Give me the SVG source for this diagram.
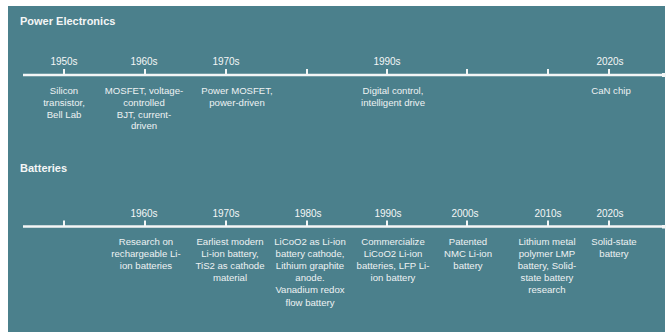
<svg xmlns="http://www.w3.org/2000/svg" width="667" height="332" viewBox="0 0 667 332">
<defs>
<style>
.bg{fill:#4b808c}
.line{stroke:#f4f6f6;stroke-width:2.4;fill:none}
.tick{stroke:#f4f6f6;stroke-width:2;fill:none}
.title{font-family:"Liberation Sans",Arial,sans-serif;font-weight:bold;font-size:11px;fill:#f4f6f6}
.year{font-family:"Liberation Sans",Arial,sans-serif;font-size:10px;fill:#f4f6f6;text-anchor:middle}
.desc{font-family:"Liberation Sans",Arial,sans-serif;font-size:9.6px;fill:#eef2f3;text-anchor:middle}
</style>
<marker id="end" viewBox="0 0 4 4" refX="2" refY="2" markerWidth="4" markerHeight="4" markerUnits="userSpaceOnUse" orient="auto">
<rect x="0" y="0" width="4" height="4" fill="#f4f6f6"/>
</marker>
</defs>
<rect x="0" y="0" width="667" height="332" fill="#ffffff"/>
<rect class="bg" x="8" y="6" width="657" height="326"/>

<text class="title" x="20" y="25">Power Electronics</text>
<text class="title" x="20" y="172">Batteries</text>

<g id="connectors">
<line class="line" x1="23" y1="75" x2="664" y2="75" marker-end="url(#end)"/>
<line class="line" x1="23" y1="226.5" x2="664" y2="226.5" marker-end="url(#end)"/>
<g id="ticks-pe">
<line class="tick" x1="64" y1="69" x2="64" y2="75"/>
<line class="tick" x1="145" y1="69" x2="145" y2="75"/>
<line class="tick" x1="226" y1="69" x2="226" y2="75"/>
<line class="tick" x1="307" y1="69" x2="307" y2="75"/>
<line class="tick" x1="387" y1="69" x2="387" y2="75"/>
<line class="tick" x1="467" y1="69" x2="467" y2="75"/>
<line class="tick" x1="548" y1="69" x2="548" y2="75"/>
<line class="tick" x1="609" y1="69" x2="609" y2="75"/>
</g>
<g id="ticks-bat">
<line class="tick" x1="64" y1="220.5" x2="64" y2="226.5"/>
<line class="tick" x1="145" y1="220.5" x2="145" y2="226.5"/>
<line class="tick" x1="226" y1="220.5" x2="226" y2="226.5"/>
<line class="tick" x1="307" y1="220.5" x2="307" y2="226.5"/>
<line class="tick" x1="387" y1="220.5" x2="387" y2="226.5"/>
<line class="tick" x1="467" y1="220.5" x2="467" y2="226.5"/>
<line class="tick" x1="548" y1="220.5" x2="548" y2="226.5"/>
<line class="tick" x1="609" y1="220.5" x2="609" y2="226.5"/>
</g>
</g>

<g id="pe-1950s">
<text class="year" x="64" y="65">1950s</text>
<text class="desc" x="64" y="94"><tspan x="64">Silicon</tspan><tspan x="64" dy="11.8">transistor,</tspan><tspan x="64" dy="11.8">Bell Lab</tspan></text>
</g>
<g id="pe-1960s">
<text class="year" x="144" y="65">1960s</text>
<text class="desc" x="144" y="94"><tspan x="144">MOSFET, voltage-</tspan><tspan x="144" dy="11.8">controlled</tspan><tspan x="144" dy="11.8">BJT, current-</tspan><tspan x="144" dy="11.8">driven</tspan></text>
</g>
<g id="pe-1970s">
<text class="year" x="226" y="65">1970s</text>
<text class="desc" x="237" y="94"><tspan x="237">Power MOSFET,</tspan><tspan x="237" dy="11.8">power-driven</tspan></text>
</g>
<g id="pe-1990s">
<text class="year" x="387" y="65">1990s</text>
<text class="desc" x="393" y="94"><tspan x="393">Digital control,</tspan><tspan x="393" dy="11.8">intelligent drive</tspan></text>
</g>
<g id="pe-2020s">
<text class="year" x="610" y="65">2020s</text>
<text class="desc" x="611" y="94">CaN chip</text>
</g>

<g id="bat-1960s">
<text class="year" x="144" y="216.5">1960s</text>
<text class="desc" x="146" y="245"><tspan x="146">Research on</tspan><tspan x="146" dy="12.1">rechargeable Li-</tspan><tspan x="146" dy="12.1">ion batteries</tspan></text>
</g>
<g id="bat-1970s">
<text class="year" x="226" y="216.5">1970s</text>
<text class="desc" x="230" y="245"><tspan x="230">Earliest modern</tspan><tspan x="230" dy="12.1">Li-ion battery,</tspan><tspan x="230" dy="12.1">TiS2 as cathode</tspan><tspan x="230" dy="12.1">material</tspan></text>
</g>
<g id="bat-1980s">
<text class="year" x="308" y="216.5">1980s</text>
<text class="desc" x="310" y="245"><tspan x="310">LiCoO2 as Li-ion</tspan><tspan x="310" dy="12.1">battery cathode,</tspan><tspan x="310" dy="12.1">Lithium graphite</tspan><tspan x="310" dy="12.1">anode.</tspan><tspan x="310" dy="12.1">Vanadium redox</tspan><tspan x="310" dy="12.1">flow battery</tspan></text>
</g>
<g id="bat-1990s">
<text class="year" x="388" y="216.5">1990s</text>
<text class="desc" x="393" y="245"><tspan x="393">Commercialize</tspan><tspan x="393" dy="12.1">LiCoO2 Li-ion</tspan><tspan x="393" dy="12.1">batteries, LFP Li-</tspan><tspan x="393" dy="12.1">ion battery</tspan></text>
</g>
<g id="bat-2000s">
<text class="year" x="465" y="216.5">2000s</text>
<text class="desc" x="468" y="245"><tspan x="468">Patented</tspan><tspan x="468" dy="12.1">NMC Li-ion</tspan><tspan x="468" dy="12.1">battery</tspan></text>
</g>
<g id="bat-2010s">
<text class="year" x="548" y="216.5">2010s</text>
<text class="desc" x="547" y="245"><tspan x="547">Lithium metal</tspan><tspan x="547" dy="12.1">polymer LMP</tspan><tspan x="547" dy="12.1">battery, Solid-</tspan><tspan x="547" dy="12.1">state battery</tspan><tspan x="547" dy="12.1">research</tspan></text>
</g>
<g id="bat-2020s">
<text class="year" x="610" y="216.5">2020s</text>
<text class="desc" x="614" y="245"><tspan x="614">Solid-state</tspan><tspan x="614" dy="12.1">battery</tspan></text>
</g>
</svg>
